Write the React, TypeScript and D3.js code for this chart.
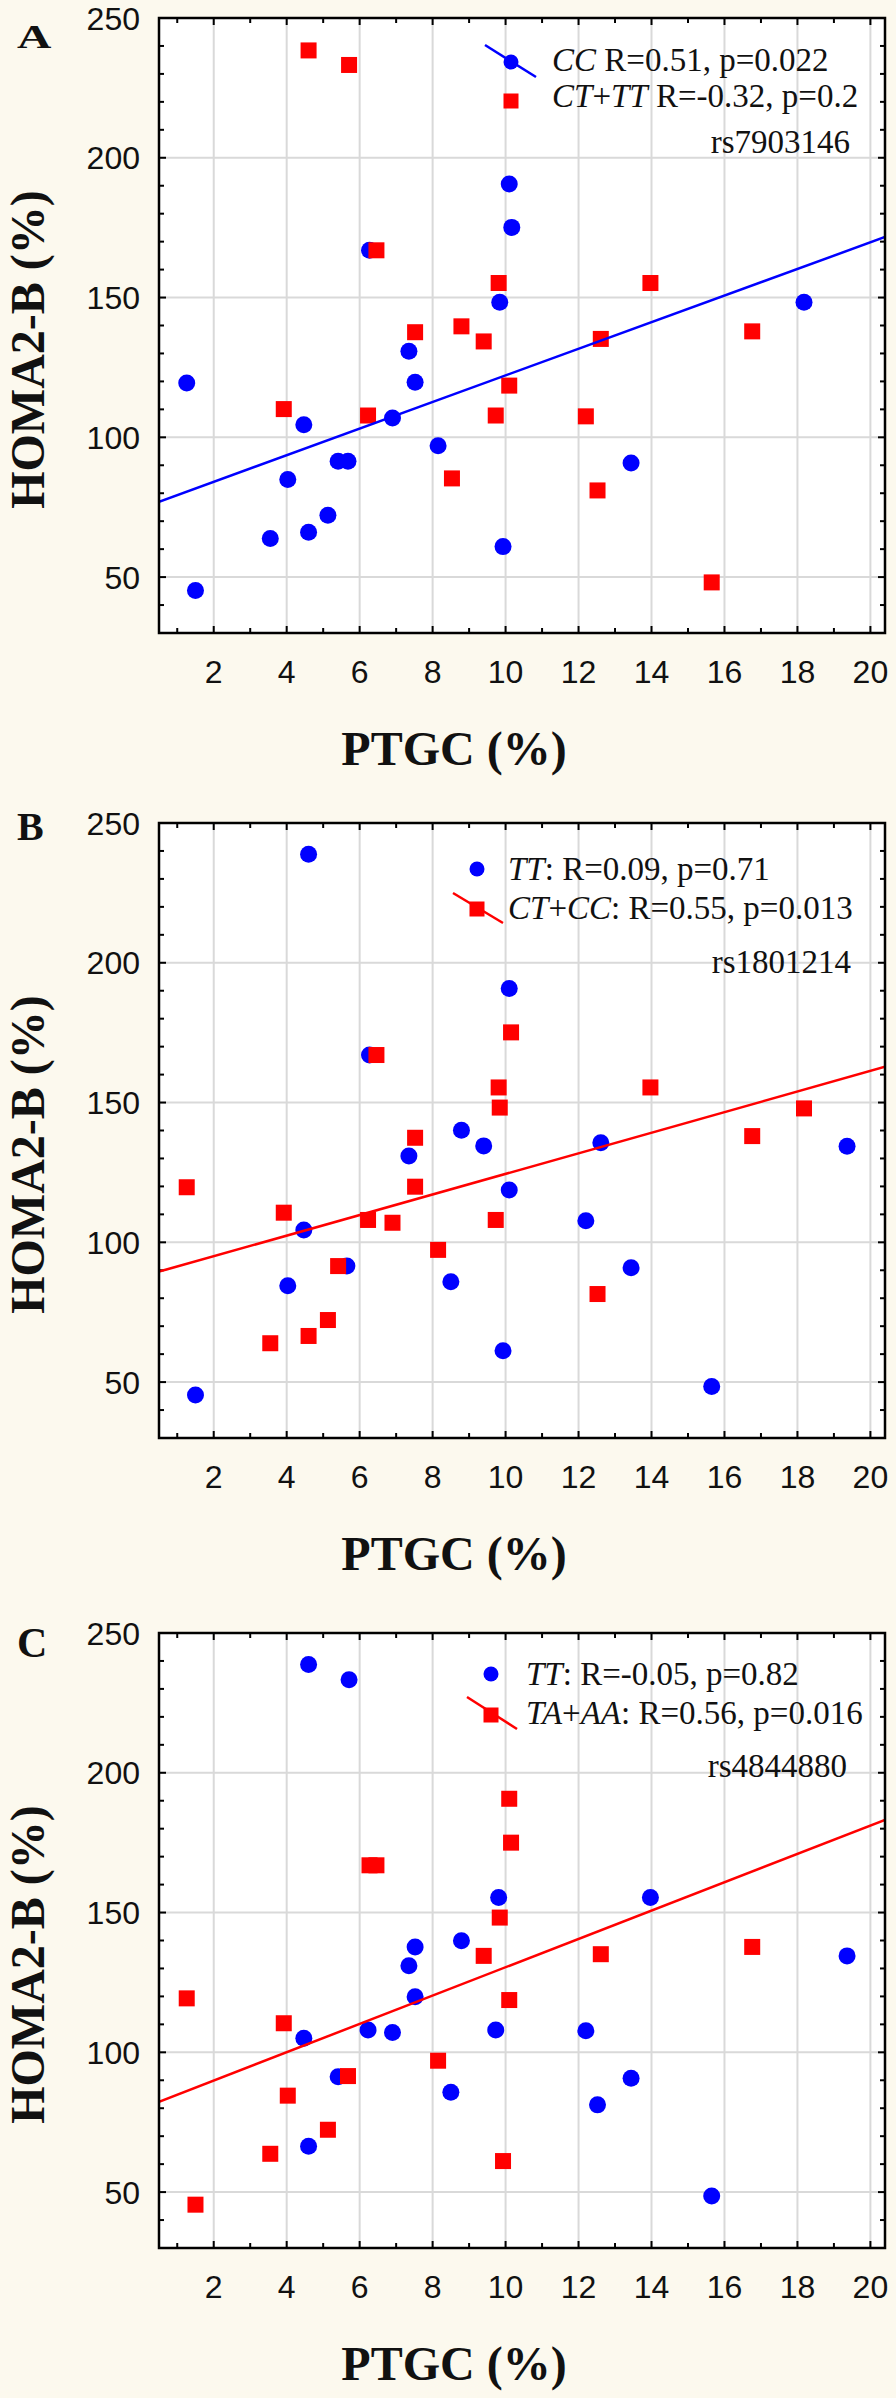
import React from "react";
import * as d3 from "d3";

const W = 896;
const H = 2398;

// x = PTGC (%), y = HOMA2-B (%)
const aCC = [[1.26,119.4],[1.5,45.2],[3.55,63.8],[4.03,84.9],[4.47,104.5],[4.6,66.0],[5.13,72.1],[5.41,91.4],[5.68,91.4],[6.27,166.9],[6.9,106.9],[7.35,130.8],[7.52,119.7],[8.15,97.0],[9.84,148.3],[9.93,60.9],[10.1,190.6],[10.17,175.1],[13.44,90.8],[18.18,148.3]];
const aCTTT = [[3.92,110.1],[4.6,238.4],[5.71,233.2],[6.23,107.8],[6.46,166.9],[7.52,137.6],[8.53,85.3],[8.79,139.7],[9.4,134.3],[9.73,107.8],[9.81,155.2],[10.1,118.5],[12.2,107.5],[12.52,81.0],[12.61,135.2],[13.97,155.2],[15.65,48.1],[16.76,137.9]];

const bTT = [[1.5,45.4],[4.03,84.5],[4.47,104.4],[4.6,238.8],[5.65,91.5],[6.27,167.0],[7.35,130.9],[8.5,85.9],[8.79,140.1],[9.4,134.5],[9.93,61.2],[10.1,190.8],[10.1,118.7],[12.2,107.7],[12.61,135.6],[13.44,90.9],[15.65,48.4],[19.36,134.4]];
const bCTCC = [[1.26,119.7],[3.55,63.9],[3.92,110.6],[4.6,66.5],[5.13,72.2],[5.41,91.5],[6.23,108.0],[6.46,167.0],[6.9,107.0],[7.52,137.4],[7.52,119.9],[8.15,97.3],[9.73,108.0],[9.81,155.4],[9.84,148.2],[10.15,175.1],[12.52,81.5],[13.97,155.4],[16.76,138.0],[18.18,147.9]];

const cTT = [[4.47,105.0],[4.6,238.7],[4.6,66.4],[5.41,91.3],[5.71,233.3],[6.23,108.0],[6.9,107.1],[7.35,131.0],[7.52,137.7],[7.52,119.9],[8.5,85.7],[8.79,139.9],[9.73,108.0],[9.81,155.4],[12.2,107.7],[12.52,81.2],[13.44,90.7],[13.97,155.4],[15.65,48.6],[19.36,134.5]];
const cTAAA = [[1.26,119.3],[1.5,45.5],[3.55,63.7],[3.92,110.4],[4.03,84.5],[5.13,72.3],[5.68,91.5],[6.27,166.9],[6.46,166.9],[8.15,97.0],[9.4,134.5],[9.84,148.2],[9.93,61.1],[10.1,190.7],[10.1,118.7],[10.15,175.0],[12.61,135.1],[16.76,137.7]];

const xTicks = [2, 4, 6, 8, 10, 12, 14, 16, 18, 20];
const yTicks = [50, 100, 150, 200, 250];

// legend rows: [text, italic]
const legA1 = [["CC", true], [" R=0.51, p=0.022", false]];
const legA2 = [["CT", true], ["+", false], ["TT", true], [" R=-0.32, p=0.2", false]];
const legB1 = [["TT", true], [": R=0.09, p=0.71", false]];
const legB2 = [["CT", true], ["+", false], ["CC", true], [": R=0.55, p=0.013", false]];
const legC1 = [["TT", true], [": R=-0.05, p=0.82", false]];
const legC2 = [["TA", true], ["+", false], ["AA", true], [": R=0.56, p=0.016", false]];

const BLUE = "#0000ff";
const RED = "#ff0000";
const BG = "#fcf9ee";
const GRID = "#d9d9d9";
const SERIF = "'Liberation Serif', 'Times New Roman', serif";
const SANS = "'Liberation Sans', Arial, sans-serif";

const PL = 159, PR = 885, PH = 615;

const panels = [
  { letter: "A", top: 18, letterY: 30, letterScale: 1.4, letterSize: 34, blue: aCC, red: aCTTT, fitOn: "blue", l1: legA1, l2: legA2, rs: "rs7903146",
    symX: 511, r1: 44, b1: 53, r2: 83, b2: 89, textX: 552, rsY: 135, rsX: 850, seg: [[-26, -17], [25, 15]] },
  { letter: "B", top: 823, letterY: 17, letterScale: 1, letterSize: 40, blue: bTT, red: bCTCC, fitOn: "red", l1: legB1, l2: legB2, rs: "rs1801214",
    symX: 477, r1: 46, b1: 57, r2: 86, b2: 96, textX: 508, rsY: 150, rsX: 851, seg: [[-24, -16], [26, 14]] },
  { letter: "C", top: 1633, letterY: 24, letterScale: 1, letterSize: 42, blue: cTT, red: cTAAA, fitOn: "red", l1: legC1, l2: legC2, rs: "rs4844880",
    symX: 491, r1: 41, b1: 52, r2: 82, b2: 91, textX: 526, rsY: 144, rsX: 847, seg: [[-24, -18], [26, 14]] },
];

function linFit(pts) {
  const mx = d3.mean(pts, (d) => d[0]);
  const my = d3.mean(pts, (d) => d[1]);
  const sxy = d3.sum(pts, (d) => (d[0] - mx) * (d[1] - my));
  const sxx = d3.sum(pts, (d) => (d[0] - mx) ** 2);
  const b = sxy / sxx;
  return (v) => my + b * (v - mx);
}

function LegendText({ x, y, parts }) {
  return (
    <text x={x} y={y} fontFamily={SERIF} fontSize={33} fill="#111">
      {parts.map((p, i) => (
        <tspan key={i} fontStyle={p[1] ? "italic" : "normal"}>{p[0]}</tspan>
      ))}
    </text>
  );
}

function Panel({ p, idx }) {
  const x = d3.scaleLinear().domain([0.5, 20.4]).range([PL, PR]);
  const y = d3.scaleLinear().domain([30, 250]).range([PH, 0]);
  const fitPts = p.fitOn === "blue" ? p.blue : p.red;
  const f = linFit(fitPts);
  const lineColor = p.fitOn === "blue" ? BLUE : RED;
  const line = d3.line()([[x(0.5), y(f(0.5))], [x(20.4), y(f(20.4))]]);
  const clipId = "clip" + idx;
  const xMinor = d3.range(1, 21);
  const yMinor = d3.range(40, 250, 10);
  const sq = 16;

  return (
    <g transform={`translate(0,${p.top})`}>
      <defs>
        <clipPath id={clipId}>
          <rect x={PL} y={0} width={PR - PL} height={PH} />
        </clipPath>
      </defs>
      <rect x={PL} y={0} width={PR - PL} height={PH} fill="#fff" />
      {xTicks.map((t) => (
        <line key={"gx" + t} x1={x(t)} x2={x(t)} y1={0} y2={PH} stroke={GRID} strokeWidth={2} />
      ))}
      {yTicks.slice(0, 4).map((t) => (
        <line key={"gy" + t} x1={PL} x2={PR} y1={y(t)} y2={y(t)} stroke={GRID} strokeWidth={2} />
      ))}
      {xMinor.map((t) => {
        const len = t % 2 === 0 ? 7 : 5;
        return (
          <g key={"tx" + t} stroke="#000" strokeWidth={2}>
            <line x1={x(t)} x2={x(t)} y1={PH} y2={PH - len} />
            <line x1={x(t)} x2={x(t)} y1={0} y2={len} />
          </g>
        );
      })}
      {yMinor.map((t) => {
        const len = t % 50 === 0 ? 7 : 5;
        return (
          <g key={"ty" + t} stroke="#000" strokeWidth={2}>
            <line x1={PL} x2={PL + len} y1={y(t)} y2={y(t)} />
            <line x1={PR} x2={PR - len} y1={y(t)} y2={y(t)} />
          </g>
        );
      })}
      <g clipPath={`url(#${clipId})`}>
        {p.blue.map((d, i) => (
          <circle key={"b" + i} cx={x(d[0])} cy={y(d[1])} r={8.5} fill={BLUE} />
        ))}
        {p.red.map((d, i) => (
          <rect key={"r" + i} x={x(d[0]) - sq / 2} y={y(d[1]) - sq / 2} width={sq} height={sq} fill={RED} />
        ))}
        <path d={line} stroke={lineColor} strokeWidth={2.5} fill="none" />
      </g>
      <rect x={PL} y={0} width={PR - PL} height={PH} fill="none" stroke="#000" strokeWidth={2.5} />

      {xTicks.map((t) => (
        <text key={"lx" + t} x={x(t)} y={PH + 50} textAnchor="middle" fontFamily={SANS} fontSize={32} fill="#111">{t}</text>
      ))}
      {yTicks.map((t) => (
        <text key={"ly" + t} x={140} y={y(t)} dy="0.36em" textAnchor="end" fontFamily={SANS} fontSize={32} fill="#111">{t}</text>
      ))}

      <text x={454} y={PH + 132} textAnchor="middle" fontFamily={SERIF} fontWeight="bold" fontSize={48} fill="#111">PTGC (%)</text>
      <text transform={`translate(44,${PH / 2 + 24}) rotate(-90)`} textAnchor="middle" fontFamily={SERIF} fontWeight="bold" fontSize={48} fill="#111">HOMA2-B (%)</text>
      <text transform={`translate(17,${p.letterY}) scale(${p.letterScale},1)`} fontFamily={SERIF} fontWeight="bold" fontSize={p.letterSize} fill="#111">{p.letter}</text>

      {/* legend */}
      {p.fitOn === "blue" ? (
        <line x1={p.symX + p.seg[0][0]} y1={p.r1 + p.seg[0][1]} x2={p.symX + p.seg[1][0]} y2={p.r1 + p.seg[1][1]} stroke={BLUE} strokeWidth={2.5} />
      ) : (
        <line x1={p.symX + p.seg[0][0]} y1={p.r2 + p.seg[0][1]} x2={p.symX + p.seg[1][0]} y2={p.r2 + p.seg[1][1]} stroke={RED} strokeWidth={2.5} />
      )}
      <circle cx={p.symX} cy={p.r1} r={7.5} fill={BLUE} />
      <rect x={p.symX - 7.5} y={p.r2 - 7.5} width={15} height={15} fill={RED} />
      <LegendText x={p.textX} y={p.b1} parts={p.l1} />
      <LegendText x={p.textX} y={p.b2} parts={p.l2} />
      <text x={p.rsX} y={p.rsY} textAnchor="end" fontFamily={SERIF} fontSize={33} fill="#111">{p.rs}</text>
    </g>
  );
}

export default function App() {
  return (
    <svg width={W} height={H} viewBox={`0 0 ${W} ${H}`} style={{ position: "absolute", left: 0, top: 0, display: "block" }}>
      <rect x={0} y={0} width={W} height={H} fill={BG} />
      {panels.map((p, i) => (
        <Panel key={p.letter} p={p} idx={i} />
      ))}
    </svg>
  );
}
